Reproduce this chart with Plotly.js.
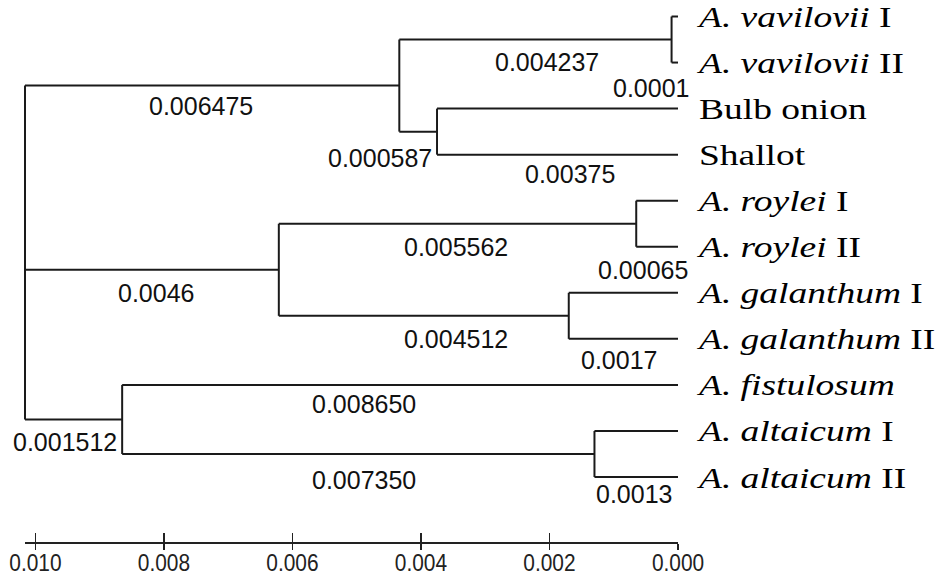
<!DOCTYPE html>
<html>
<head>
<meta charset="utf-8">
<script src="https://cdn.plot.ly/plotly-3.0.1.min.js"></script>
<style>html,body{margin:0;padding:0;background:#fff;}#chart{width:941px;height:577px;}</style>
</head>
<body>
<div id="chart"></div>
<script>
// ---------- DATA ----------
const leaves = ['A. vavilovii I', 'A. vavilovii II', 'Bulb onion', 'Shallot', 'A. roylei I', 'A. roylei II',
  'A. galanthum I', 'A. galanthum II', 'A. fistulosum', 'A. altaicum I', 'A. altaicum II'];
const leafTickText = ['<i>A. vavilovii</i> I', '<i>A. vavilovii</i> II', 'Bulb onion', 'Shallot',
  '<i>A. roylei</i> I', '<i>A. roylei</i> II', '<i>A. galanthum</i> I', '<i>A. galanthum</i> II',
  '<i>A. fistulosum</i>', '<i>A. altaicum</i> I', '<i>A. altaicum</i> II'];
const nodeNames = ['vav', 'onion', 'grpA', 'roy', 'gal', 'grpB', 'alt', 'grpC', 'root'];
const nodeHeights = [0.0001, 0.00375, 0.004337, 0.00065, 0.0017, 0.006212, 0.0013, 0.00865, 0.010162];
const nodeChildren = [
  ['A. vavilovii I', 'A. vavilovii II'],
  ['Bulb onion', 'Shallot'],
  ['vav', 'onion'],
  ['A. roylei I', 'A. roylei II'],
  ['A. galanthum I', 'A. galanthum II'],
  ['roy', 'gal'],
  ['A. altaicum I', 'A. altaicum II'],
  ['A. fistulosum', 'alt'],
  ['grpA', 'grpB', 'grpC']
];
const branchLabelText = ['0.004237', '0.0001', '0.006475', '0.000587', '0.00375', '0.005562', '0.00065',
  '0.0046', '0.004512', '0.0017', '0.008650', '0.001512', '0.007350', '0.0013'];
const branchLabelChild = ['vav', 'A. vavilovii II', 'grpA', 'onion', 'Shallot', 'roy', 'A. roylei II',
  'grpB', 'gal', 'A. galanthum II', 'A. fistulosum', 'grpC', 'alt', 'A. altaicum II'];
const scaleTickVals = [0.010, 0.008, 0.006, 0.004, 0.002, 0.000];
const scaleTickText = ['0.010', '0.008', '0.006', '0.004', '0.002', '0.000'];

// ---------- TREE GEOMETRY (from the data) ----------
function isLeaf(n) { return leaves.indexOf(n) >= 0; }
function nodeH(n) { return isLeaf(n) ? 0 : nodeHeights[nodeNames.indexOf(n)]; }
function nodeY(n) {
  if (isLeaf(n)) return leaves.indexOf(n);
  const cs = nodeChildren[nodeNames.indexOf(n)];
  return (nodeY(cs[0]) + nodeY(cs[cs.length - 1])) / 2;
}
function parentOf(n) {
  for (let i = 0; i < nodeNames.length; i++) if (nodeChildren[i].indexOf(n) >= 0) return nodeNames[i];
  return null;
}
const lx = [], ly = [];
nodeNames.forEach((n, i) => {
  const h = nodeHeights[i];
  const ys = nodeChildren[i].map(nodeY);
  lx.push(h, h, null); ly.push(Math.min(...ys), Math.max(...ys), null);
  nodeChildren[i].forEach(c => { lx.push(h, nodeH(c), null); ly.push(nodeY(c), nodeY(c), null); });
});

// ---------- LAYOUT ----------
const W = 941, H = 577;
const rootH = nodeHeights[nodeNames.indexOf('root')];
const sL = 25, sR = 678;                    // scale bar pixel extent
const k = (sR - sL) / rootH;                // px per unit
const tL = 15, tR = 684;                    // tree axis pixel extent
const rowTop = 16.5, rowStep = 46.05;       // leaf row pixel layout
const yTopPx = 5, yBotPx = 500;
const axisLinePx = 542;

// label nudges in px [dx, dy(down)]
const labelNudge = [[11.5, 22.4], [-24, 25], [-11, 20.5], [-38, 26.5], [12.5, 19.5], [-1.5, 23.5], [-14, 23.5],
  [4, 23.5], [32, 23.5], [-4, 21.5], [-36, 19.5], [-8.6, 22.5], [6, 26.5], [-2, 16.5]];

const annotations = branchLabelText.map((t, i) => {
  const c = branchLabelChild[i], p = parentOf(c);
  return {
    text: t, xref: 'x', yref: 'y', x: (nodeH(p) + nodeH(c)) / 2, y: nodeY(c),
    xanchor: 'center', yanchor: 'middle', showarrow: false,
    xshift: labelNudge[i][0], yshift: -labelNudge[i][1],
    font: {family: 'Liberation Sans, Arial, sans-serif', size: 25, color: '#111'}
  };
});

const traces = [
  {type: 'scatter', mode: 'lines', x: lx, y: ly, xaxis: 'x', yaxis: 'y',
   line: {color: '#1a1a1a', width: 2}, hoverinfo: 'skip', connectgaps: false},
  {type: 'scatter', mode: 'lines', x: [], y: [], xaxis: 'x2', yaxis: 'y', hoverinfo: 'skip'},
  {type: 'scatter', mode: 'lines', x: [], y: [], xaxis: 'x3', yaxis: 'y', hoverinfo: 'skip'}
];

const scaleFont = {family: 'Liberation Sans, Arial, sans-serif', size: 24, color: '#222'};

const layout = {
  width: W, height: H, margin: {l: 0, r: 0, t: 0, b: 0, pad: 0},
  paper_bgcolor: '#fff', plot_bgcolor: 'rgba(0,0,0,0)', showlegend: false,
  xaxis: {domain: [tL / W, tR / W], range: [rootH + (sL - tL) / k, -(tR - sR) / k],
    visible: false, showgrid: false, zeroline: false, fixedrange: true},
  yaxis: {domain: [(H - yBotPx) / H, (H - yTopPx) / H],
    range: [(yBotPx - rowTop) / rowStep, (yTopPx - rowTop) / rowStep],
    side: 'right', anchor: 'x', tickmode: 'array', tickvals: leaves.map((_, i) => i), ticktext: leafTickText,
    ticks: '', showgrid: false, zeroline: false, showline: false, ticklabelstandoff: 14,
    ticklabeloverflow: 'allow',
    tickfont: {family: 'Liberation Serif, Times New Roman, serif', size: 30, color: '#000'}},
  xaxis2: {domain: [sL / W, sR / W], anchor: 'free', position: (H - axisLinePx) / H, range: [rootH, 0],
    tickmode: 'array', tickvals: scaleTickVals, ticktext: scaleTickText,
    ticks: 'outside', ticklen: 6, tickwidth: 1.5, tickcolor: '#222',
    showline: true, linecolor: '#222', linewidth: 1.5, showgrid: false, zeroline: false,
    tickfont: scaleFont, ticklabelstandoff: -7, ticklabeloverflow: 'allow'},
  xaxis3: {domain: [sL / W, sR / W], anchor: 'free', position: (H - axisLinePx) / H, range: [rootH, 0],
    overlaying: 'x2', tickmode: 'array', tickvals: scaleTickVals, ticktext: scaleTickText,
    ticks: 'inside', ticklen: 9, tickwidth: 1.5, tickcolor: '#222', showticklabels: false,
    showline: false, showgrid: false, zeroline: false},
  annotations: annotations
};

function stretchX(sel, s) {
  document.querySelectorAll(sel).forEach(t => {
    const x0 = parseFloat(t.getAttribute('x')) || 0;
    const tr = t.getAttribute('transform') || '';
    t.setAttribute('transform', tr + ' translate(' + x0 + ',0) scale(' + s + ',1) translate(' + (-x0) + ',0)');
  });
}

Plotly.newPlot('chart', traces, layout, {staticPlot: true, displayModeBar: false}).then(() => {
  // the reference's serif leaf labels are set wider, and its scale digits narrower, than the fonts' natural widths
  stretchX('.yaxislayer-above .ytick text', 1.25);
  stretchX('.xaxislayer-above .x2tick text', 0.87);
});
</script>
</body>
</html>
